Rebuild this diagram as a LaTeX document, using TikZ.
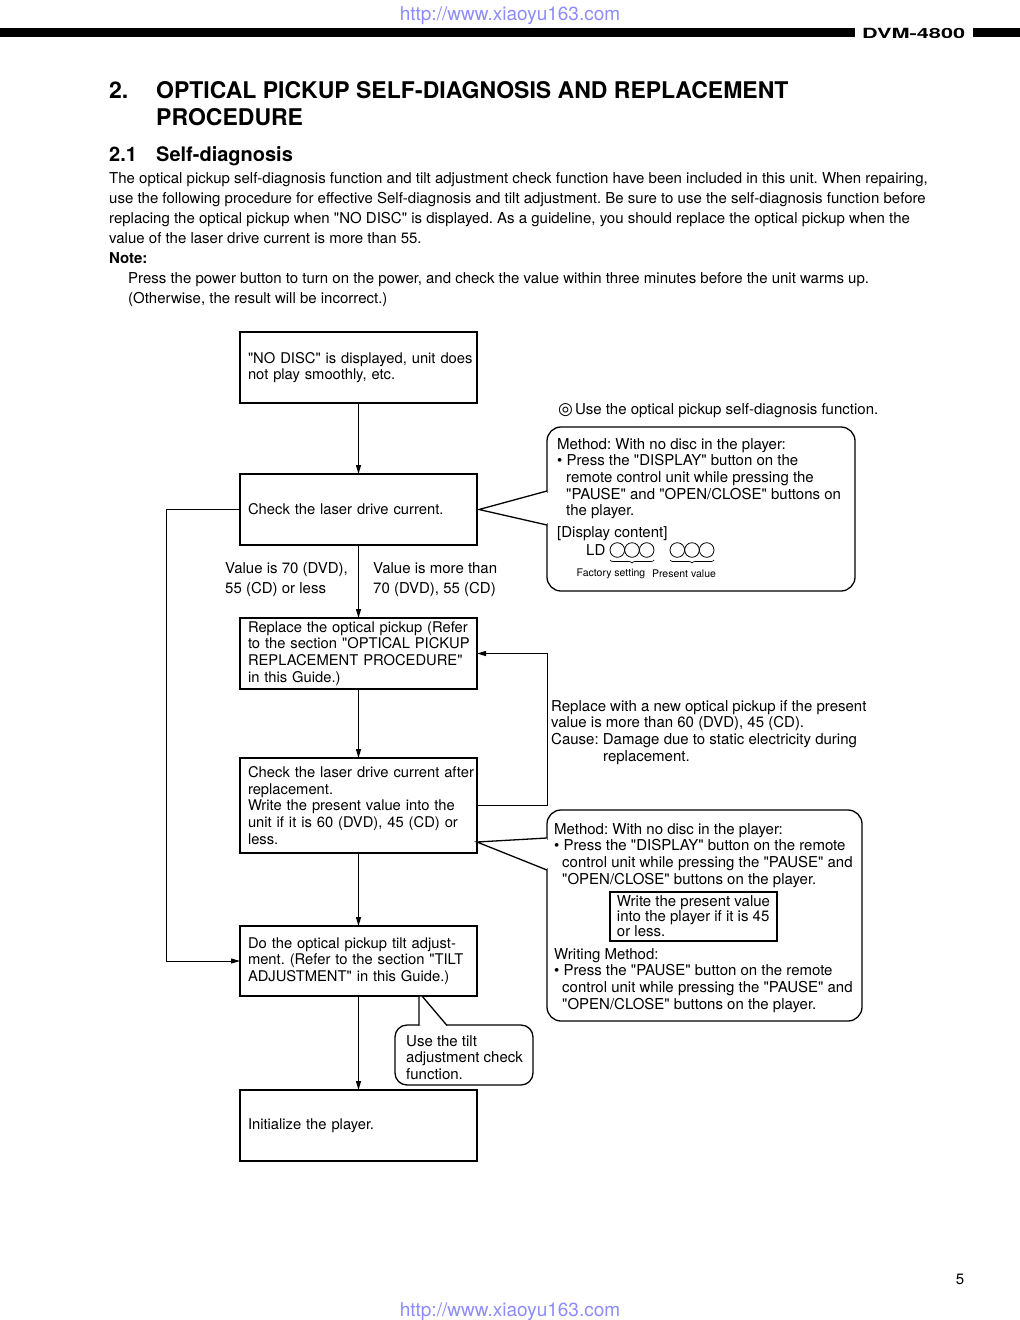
\documentclass[tikz,border=0pt]{standalone}
\usepackage{fontspec}
\setmainfont{TeX Gyre Heros}[Ligatures=TeXOff]
\newfontfamily\symfont{DejaVu Sans}
\usetikzlibrary{arrows.meta,positioning,decorations.pathreplacing}
\frenchspacing

\definecolor{urlblue}{RGB}{140,140,250}
\newcommand{\boxfont}{\fontsize{15}{16.7}\selectfont}
\newcommand{\flowfont}{\fontsize{14.75}{16.7}\selectfont}
\newcommand{\parafont}{\fontsize{15}{20}\selectfont}

\tikzset{
  flowbox/.style={draw, line width=1.6pt, outer sep=0pt, minimum width=237pt,
    minimum height=71pt, text width=229pt, inner xsep=4pt, align=left,
    anchor=north west, font=\flowfont,
    execute at begin node={\hyphenpenalty=10000\leftskip=4pt\rightskip=-8pt plus 1fil\relax}},
  callout/.style={draw, line width=1.3pt, outer sep=0pt, rounded corners=14pt,
    anchor=north west},
  pointer/.style={line width=1.3pt, fill=white},
  arr/.style={-{Triangle[length=9pt,width=5pt]}, line width=1pt},
  txt/.style={anchor=north west, inner sep=0pt, align=left, font=\boxfont},
}

\begin{document}
\begin{tikzpicture}[x=1pt, y=-1pt]
  \useasboundingbox (0,0) rectangle (1020,1320);

  % page header
  \node[font=\fontsize{19}{19}\selectfont, text=urlblue] (urltop) at (510,16) {http://www.xiaoyu163.com};
  \fill (0,28) rectangle (855,37);
  \fill (973,28) rectangle (1020,37);
  \node[anchor=west, inner sep=0pt, font=\bfseries\fontsize{14}{14}\selectfont] (model) at (862,33) {\scalebox{1.55}[1]{DVM-4800}};

  % headings and text
  \node[anchor=base west, inner sep=0pt, font=\bfseries\fontsize{23}{27}\selectfont] (secno) at (109,98) {2.};
  \node[anchor=base west, inner sep=0pt, font=\bfseries\fontsize{23}{27}\selectfont] (title) at (156,98) {OPTICAL PICKUP SELF-DIAGNOSIS AND REPLACEMENT};
  \node[anchor=base west, inner sep=0pt, font=\bfseries\fontsize{23}{27}\selectfont] (title2) at (156,125) {PROCEDURE};
  \node[anchor=base west, inner sep=0pt, font=\bfseries\fontsize{20}{22}\selectfont] (subno) at (109,161) {2.1};
  \node[anchor=base west, inner sep=0pt, font=\bfseries\fontsize{20}{22}\selectfont] (subtitle) at (156,161) {Self-diagnosis};
  \node[txt, font=\parafont] (intro) at (109,172) {The optical pickup self-diagnosis function and tilt adjustment check function have been included in this unit. When repairing,\\
    use the following procedure for effective Self-diagnosis and tilt adjustment. Be sure to use the self-diagnosis function before\\
    replacing the optical pickup when "NO DISC" is displayed. As a guideline, you should replace the optical pickup when the\\
    value of the laser drive current is more than 55.};
  \node[anchor=base west, inner sep=0pt, font=\bfseries\parafont] (note) at (109,263) {Note:};
  \node[txt, font=\parafont] (notetxt) at (128,272) {Press the power button to turn on the power, and check the value within three minutes before the unit warms up.\\
    (Otherwise, the result will be incorrect.)};

  % flow chart
  \node[flowbox] (nodisc) at (240,332) {"NO DISC" is displayed, unit does\\not play smoothly, etc.};
  \node[flowbox] (check) at (240,474) {Check the laser drive current.};
  \node[flowbox] (replace) at (240,618) {Replace the optical pickup (Refer\\to the section "OPTICAL PICKUP\\REPLACEMENT PROCEDURE"\\in this Guide.)};
  \node[flowbox, minimum height=95pt] (recheck) at (240,758) {Check the laser drive current after\\replacement.\\Write the present value into the\\unit if it is 60 (DVD), 45 (CD) or\\less.};
  \node[flowbox, minimum height=70pt] (tilt) at (240,926) {Do the optical pickup tilt adjust-\\ment. (Refer to the section "TILT\\ADJUSTMENT" in this Guide.)};
  \node[flowbox] (init) at (240,1090) {Initialize the player.};

  \draw[arr] (nodisc) -- (check);
  \draw[arr] (check) -- (replace);
  \draw[arr] (replace) -- (recheck);
  \draw[arr] (recheck) -- (tilt);
  \draw[arr] (tilt) -- (init);
  \draw[arr] (recheck.east) -- ++(70,0) |- (replace.east);
  \draw[arr] (check.west) -- ++(-74,0) |- (tilt.west);

  \node[txt, font=\parafont] (lowval) at (225,562) {Value is 70 (DVD),\\55 (CD) or less};
  \node[txt, font=\parafont] (highval) at (373,562) {Value is more than\\70 (DVD), 55 (CD)};
  \node[txt] (cause) at (551,700) {Replace with a new optical pickup if the present\\value is more than 60 (DVD), 45 (CD).\\Cause: Damage due to static electricity during\\\hspace*{52pt}replacement.};

  % self-diagnosis callout
  \node[anchor=west, inner sep=0pt, font=\boxfont] (usediag) at (558,411) {{\symfont\fontsize{17}{17}\selectfont ◎}\hspace{2pt}Use the optical pickup self-diagnosis function.};
  \node[callout, minimum width=308pt, minimum height=164pt] (method) at (547,427) {};
  \draw[white, line width=1.8pt] (547,493) -- (547,523);
  \draw[pointer] (547,491) -- ([xshift=2pt]check.east) -- (547,525);
  \node[txt] (methodtxt) at (557,438) {Method: With no disc in the player:\\
    • Press the "DISPLAY" button on the\\
    \hspace*{9pt}remote control unit while pressing the\\
    \hspace*{9pt}"PAUSE" and "OPEN/CLOSE" buttons on\\
    \hspace*{9pt}the player.};
  \node[txt] (disp) at (557,526) {[Display content]};
  \node[anchor=base west, inner sep=0pt, font=\boxfont] (ld) at (586,555) {LD};
  \foreach \cx in {617.3,632,646.7,677.3,692,706.7}
    \draw[line width=0.8pt] (\cx,550) circle[radius=7.3];
  \draw[line width=0.7pt, decorate, decoration={brace, mirror, amplitude=3pt}] (610,560) -- (654,560);
  \draw[line width=0.7pt, decorate, decoration={brace, mirror, amplitude=3pt}] (670,560) -- (714,560);
  \node[font=\fontsize{10.5}{10.5}\selectfont] (factory) at (611,574) {Factory setting};
  \node[font=\fontsize{10.5}{10.5}\selectfont] (present) at (684,574) {Present value};

  % writing callout
  \node[callout, minimum width=315pt, minimum height=211pt] (write) at (547,810) {};
  \draw[white, line width=1.8pt] (547,840) -- (547,868);
  \draw[pointer] (547,838) -- ([yshift=11pt]recheck.south east) -- (547,870);
  \node[txt] (writetxt) at (554,823) {Method: With no disc in the player:\\
    • Press the "DISPLAY" button on the remote\\
    \hspace*{8pt}control unit while pressing the "PAUSE" and\\
    \hspace*{8pt}"OPEN/CLOSE" buttons on the player.};
  \node[draw, line width=1.3pt, outer sep=0pt, anchor=north west, minimum width=167pt,
    minimum height=49pt, inner xsep=6pt, align=left, font=\fontsize{15}{15}\selectfont] (writebox) at (610,892) {Write the present value\\into the player if it is 45\\or less.};
  \node[txt] (writing) at (554,948) {Writing Method:\\
    • Press the "PAUSE" button on the remote\\
    \hspace*{8pt}control unit while pressing the "PAUSE" and\\
    \hspace*{8pt}"OPEN/CLOSE" buttons on the player.};

  % tilt check callout
  \node[callout, rounded corners=12pt, minimum width=138pt, minimum height=60pt] (tiltcheck) at (395,1025) {};
  \draw[white, line width=1.8pt] (420.5,1025) -- (446,1025);
  \draw[pointer] (419,1025.5) -- ([xshift=179pt]tilt.south west) -- ([xshift=182pt]tilt.south west) -- (447,1025.5);
  \node[txt] (tilttxt) at (406,1035) {Use the tilt\\adjustment check\\function.};

  % page footer
  \node[font=\boxfont] (page) at (960,1279) {5};
  \node[font=\fontsize{19}{19}\selectfont, text=urlblue] (urlbot) at (510,1312) {http://www.xiaoyu163.com};
\end{tikzpicture}
\end{document}
